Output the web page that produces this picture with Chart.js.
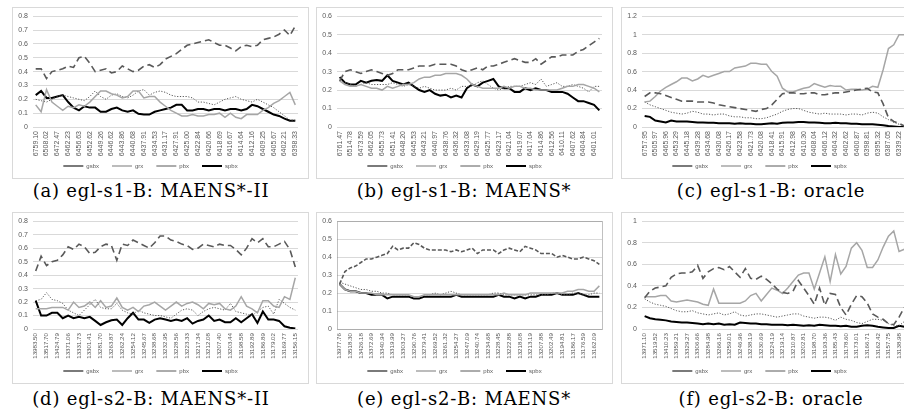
<!DOCTYPE html>
<html><head><meta charset="utf-8">
<script src="https://cdn.jsdelivr.net/npm/chart.js@4"></script>
<style>
html,body{margin:0;padding:0;background:#fff;width:904px;height:413px;overflow:hidden;position:relative}
.box{position:absolute;border:1px solid #d9d9d9;box-sizing:border-box;background:#fff}
.box canvas{position:absolute;left:-1px;top:-1px}
.cap{position:absolute;font-family:'DejaVu Serif',serif;font-size:18px;letter-spacing:0.8px;color:#000;white-space:nowrap;transform:translate(-50%,-50%)}
</style></head><body>
<div class="box" style="left:12px;top:7px;width:297px;height:172px"><canvas id="cA" width="297" height="172"></canvas></div>
<div class="box" style="left:316px;top:7px;width:297px;height:172px"><canvas id="cB" width="297" height="172"></canvas></div>
<div class="box" style="left:621px;top:7px;width:297px;height:172px"><canvas id="cC" width="297" height="172"></canvas></div>
<div class="box" style="left:12px;top:212px;width:297px;height:172px"><canvas id="cD" width="297" height="172"></canvas></div>
<div class="box" style="left:316px;top:212px;width:297px;height:172px"><canvas id="cE" width="297" height="172"></canvas></div>
<div class="box" style="left:621px;top:212px;width:297px;height:172px"><canvas id="cF" width="297" height="172"></canvas></div>
<div class="cap" style="left:151px;top:190px">(a) egl-s1-B: MAENS*-II</div>
<div class="cap" style="left:464px;top:190px">(b) egl-s1-B: MAENS*</div>
<div class="cap" style="left:771px;top:190px">(c) egl-s1-B: oracle</div>
<div class="cap" style="left:151px;top:398px">(d) egl-s2-B: MAENS*-II</div>
<div class="cap" style="left:464px;top:398px">(e) egl-s2-B: MAENS*</div>
<div class="cap" style="left:771px;top:398px">(f) egl-s2-B: oracle</div>
<script>
const seriesNames = ['gsbx','grx','pbx','spbx'];

const ticksA = ['6759.10','6508.02','6472.47','6462.23','6456.63','6452.62','6449.26','6446.62','6443.86','6440.68','6437.91','6434.53','6431.17','6427.91','6425.00','6422.84','6420.66','6418.69','6416.67','6414.64','6412.16','6409.25','6405.67','6402.21','6398.33'];
const gsbxA = [0.42,0.42,0.35,0.40,0.41,0.42,0.44,0.43,0.50,0.51,0.46,0.40,0.41,0.42,0.39,0.40,0.44,0.42,0.40,0.41,0.44,0.45,0.43,0.45,0.49,0.51,0.53,0.56,0.59,0.60,0.61,0.62,0.63,0.61,0.59,0.59,0.57,0.55,0.58,0.59,0.58,0.59,0.63,0.64,0.65,0.67,0.70,0.66,0.73];
const grxA = [0.16,0.11,0.27,0.18,0.15,0.12,0.15,0.14,0.16,0.15,0.18,0.22,0.26,0.26,0.24,0.23,0.21,0.22,0.26,0.26,0.21,0.22,0.22,0.18,0.15,0.12,0.10,0.08,0.08,0.09,0.08,0.08,0.09,0.09,0.10,0.07,0.10,0.07,0.06,0.09,0.09,0.09,0.12,0.14,0.17,0.19,0.22,0.25,0.16];
const pbxA = [0.20,0.19,0.18,0.20,0.22,0.23,0.22,0.21,0.20,0.19,0.22,0.26,0.22,0.20,0.23,0.24,0.22,0.21,0.23,0.26,0.27,0.23,0.25,0.26,0.25,0.23,0.22,0.22,0.22,0.21,0.18,0.18,0.17,0.16,0.18,0.20,0.21,0.22,0.20,0.19,0.18,0.20,0.18,0.16,0.14,0.11,0.08,0.05,0.05];
const spbxA = [0.23,0.26,0.21,0.21,0.22,0.23,0.18,0.14,0.12,0.15,0.14,0.14,0.11,0.11,0.13,0.14,0.12,0.11,0.12,0.095,0.09,0.09,0.11,0.12,0.13,0.14,0.16,0.16,0.12,0.12,0.13,0.13,0.12,0.13,0.13,0.12,0.13,0.13,0.12,0.13,0.16,0.15,0.13,0.11,0.09,0.08,0.06,0.045,0.045];

const ticksB = ['6761.47','6514.78','6473.59','6462.05','6455.73','6451.41','6448.20','6445.53','6443.21','6440.97','6438.76','6436.32','6433.08','6429.19','6425.77','6423.17','6421.04','6419.07','6417.04','6414.86','6412.56','6410.11','6407.62','6404.84','6401.01'];
const gsbxB = [0.25,0.30,0.31,0.30,0.29,0.30,0.31,0.30,0.29,0.28,0.29,0.31,0.31,0.31,0.32,0.33,0.33,0.33,0.34,0.34,0.34,0.34,0.33,0.31,0.30,0.31,0.32,0.31,0.33,0.33,0.34,0.35,0.36,0.37,0.36,0.35,0.35,0.37,0.34,0.36,0.38,0.38,0.39,0.39,0.39,0.41,0.42,0.44,0.46,0.48];
const grxB = [0.25,0.23,0.22,0.22,0.23,0.22,0.21,0.21,0.20,0.22,0.21,0.22,0.23,0.23,0.24,0.26,0.27,0.27,0.28,0.28,0.29,0.29,0.29,0.28,0.26,0.23,0.22,0.21,0.21,0.21,0.21,0.22,0.21,0.22,0.22,0.21,0.21,0.20,0.20,0.20,0.20,0.20,0.21,0.22,0.22,0.23,0.23,0.22,0.21,0.19];
const pbxB = [0.25,0.24,0.23,0.22,0.23,0.24,0.23,0.23,0.23,0.23,0.24,0.23,0.22,0.23,0.22,0.21,0.22,0.21,0.20,0.20,0.20,0.21,0.20,0.22,0.22,0.22,0.24,0.25,0.23,0.21,0.20,0.21,0.22,0.22,0.22,0.23,0.24,0.23,0.26,0.22,0.23,0.24,0.22,0.22,0.23,0.22,0.21,0.19,0.22,0.22];
const spbxB = [0.27,0.24,0.23,0.23,0.25,0.24,0.25,0.255,0.25,0.28,0.25,0.24,0.23,0.24,0.22,0.20,0.19,0.20,0.18,0.17,0.175,0.16,0.17,0.16,0.21,0.23,0.22,0.24,0.25,0.26,0.22,0.21,0.21,0.19,0.19,0.21,0.20,0.21,0.20,0.20,0.19,0.19,0.19,0.18,0.16,0.14,0.14,0.13,0.12,0.09];

const ticksC = ['6757.95','6505.97','6465.96','6453.29','6445.18','6439.28','6434.68','6430.08','6426.17','6423.58','6421.73','6420.08','6418.41','6415.91','6412.98','6410.30','6408.04','6406.12','6404.32','6402.62','6400.87','6398.81','6395.32','6387.05','6339.22'];
const gsbxC = [0.33,0.37,0.37,0.36,0.34,0.32,0.30,0.28,0.28,0.28,0.27,0.27,0.27,0.26,0.24,0.23,0.22,0.21,0.20,0.19,0.18,0.17,0.19,0.20,0.24,0.30,0.36,0.37,0.37,0.36,0.36,0.37,0.37,0.35,0.35,0.36,0.37,0.37,0.38,0.39,0.40,0.41,0.42,0.38,0.37,0.25,0.10,0.06,0.04,0.01];
const grxC = [0.27,0.28,0.33,0.39,0.43,0.46,0.49,0.53,0.53,0.50,0.52,0.56,0.54,0.56,0.58,0.60,0.60,0.64,0.65,0.66,0.69,0.69,0.68,0.68,0.60,0.55,0.42,0.38,0.38,0.40,0.42,0.43,0.47,0.45,0.43,0.45,0.44,0.44,0.40,0.41,0.41,0.40,0.41,0.44,0.43,0.62,0.85,0.89,1.0,1.0];
const pbxC = [0.27,0.24,0.22,0.20,0.18,0.16,0.15,0.14,0.15,0.17,0.16,0.14,0.14,0.13,0.14,0.14,0.12,0.11,0.11,0.10,0.10,0.09,0.09,0.10,0.12,0.14,0.17,0.19,0.20,0.20,0.18,0.16,0.15,0.14,0.15,0.14,0.14,0.14,0.13,0.14,0.14,0.13,0.15,0.16,0.15,0.11,0.08,0.05,0.03,0.01];
const spbxC = [0.12,0.11,0.07,0.06,0.05,0.07,0.06,0.06,0.06,0.055,0.05,0.05,0.045,0.045,0.04,0.04,0.04,0.035,0.04,0.035,0.035,0.03,0.03,0.035,0.04,0.035,0.045,0.05,0.05,0.055,0.055,0.05,0.05,0.045,0.04,0.04,0.045,0.04,0.04,0.035,0.035,0.03,0.03,0.03,0.025,0.02,0.01,0.005,0.0,0.0];

const ticksD = ['13983.50','13517.70','13424.79','13371.06','13331.73','13301.41','13281.70','13263.87','13262.24','13254.12','13245.67','13238.68','13232.95','13228.56','13223.33','13217.34','13212.08','13207.40','13203.44','13198.58','13192.89','13186.89','13179.02','13169.77','13156.15'];
const gsbxD = [0.43,0.54,0.47,0.50,0.51,0.55,0.61,0.59,0.63,0.61,0.56,0.57,0.61,0.63,0.62,0.51,0.63,0.62,0.66,0.64,0.62,0.60,0.64,0.69,0.69,0.66,0.65,0.63,0.62,0.59,0.60,0.63,0.62,0.61,0.63,0.62,0.62,0.59,0.55,0.60,0.67,0.64,0.67,0.61,0.61,0.63,0.65,0.59,0.46];
const grxD = [0.15,0.15,0.15,0.16,0.16,0.16,0.14,0.20,0.16,0.17,0.20,0.16,0.21,0.16,0.17,0.23,0.16,0.14,0.16,0.13,0.17,0.18,0.20,0.17,0.14,0.17,0.20,0.17,0.19,0.20,0.18,0.15,0.19,0.18,0.19,0.15,0.14,0.17,0.24,0.17,0.15,0.12,0.21,0.21,0.17,0.16,0.24,0.22,0.38];
const pbxD = [0.21,0.22,0.27,0.22,0.21,0.19,0.14,0.12,0.10,0.14,0.18,0.22,0.16,0.15,0.15,0.19,0.14,0.12,0.11,0.14,0.12,0.11,0.10,0.10,0.09,0.08,0.11,0.14,0.15,0.14,0.10,0.13,0.15,0.16,0.15,0.14,0.19,0.13,0.12,0.11,0.10,0.13,0.16,0.17,0.11,0.22,0.19,0.16,0.14];
const spbxD = [0.21,0.10,0.10,0.12,0.12,0.08,0.10,0.08,0.09,0.08,0.09,0.06,0.03,0.05,0.065,0.07,0.03,0.08,0.12,0.07,0.07,0.045,0.07,0.08,0.07,0.06,0.07,0.06,0.08,0.04,0.06,0.07,0.10,0.06,0.07,0.05,0.05,0.08,0.05,0.08,0.11,0.045,0.13,0.07,0.07,0.06,0.02,0.01,0.003];

const ticksE = ['13977.76','13518.30','13426.18','13372.69','13340.94','13319.99','13303.27','13290.76','13279.41','13269.52','13261.32','13254.27','13247.09','13240.74','13234.68','13228.45','13222.88','13218.08','13213.19','13207.88','13202.49','13194.81','13186.17','13176.59','13162.09'];
const gsbxE = [0.25,0.32,0.34,0.35,0.37,0.39,0.39,0.40,0.41,0.42,0.46,0.44,0.45,0.45,0.48,0.47,0.45,0.44,0.44,0.44,0.44,0.43,0.44,0.43,0.44,0.45,0.42,0.44,0.44,0.44,0.42,0.44,0.45,0.44,0.43,0.46,0.45,0.44,0.42,0.42,0.42,0.40,0.41,0.40,0.39,0.39,0.40,0.39,0.38,0.36];
const grxE = [0.25,0.22,0.21,0.21,0.20,0.20,0.20,0.19,0.19,0.19,0.19,0.19,0.19,0.19,0.18,0.18,0.19,0.19,0.19,0.19,0.19,0.19,0.19,0.19,0.19,0.19,0.19,0.19,0.19,0.19,0.19,0.20,0.19,0.19,0.19,0.19,0.20,0.20,0.20,0.20,0.20,0.20,0.20,0.21,0.21,0.22,0.22,0.21,0.21,0.24];
const pbxE = [0.26,0.25,0.24,0.23,0.22,0.22,0.21,0.21,0.20,0.20,0.19,0.19,0.19,0.19,0.18,0.18,0.19,0.19,0.20,0.19,0.20,0.21,0.20,0.19,0.19,0.19,0.19,0.19,0.19,0.20,0.20,0.19,0.19,0.19,0.19,0.19,0.19,0.19,0.19,0.19,0.20,0.20,0.19,0.19,0.20,0.20,0.19,0.19,0.20,0.20];
const spbxE = [0.25,0.22,0.21,0.21,0.20,0.20,0.19,0.19,0.19,0.17,0.18,0.18,0.18,0.18,0.17,0.17,0.18,0.18,0.18,0.18,0.18,0.18,0.19,0.18,0.18,0.18,0.18,0.18,0.18,0.18,0.19,0.18,0.18,0.17,0.18,0.17,0.18,0.18,0.19,0.19,0.19,0.20,0.19,0.19,0.19,0.20,0.19,0.18,0.18,0.18];

const ticksF = ['13971.10','13519.52','13410.23','13359.21','13329.27','13306.66','13284.98','13266.16','13259.01','13246.96','13238.19','13230.69','13224.19','13219.14','13210.87','13202.81','13198.70','13193.36','13185.43','13178.60','13173.01','13166.71','13162.42','13157.75','13138.98'];
const gsbxF = [0.29,0.35,0.38,0.39,0.40,0.48,0.51,0.52,0.52,0.53,0.59,0.47,0.53,0.56,0.57,0.55,0.58,0.53,0.48,0.56,0.47,0.46,0.49,0.46,0.42,0.37,0.34,0.33,0.35,0.45,0.38,0.31,0.23,0.38,0.22,0.33,0.32,0.20,0.13,0.23,0.31,0.30,0.24,0.14,0.11,0.09,0.05,0.04,0.11,0.20];
const grxF = [0.30,0.30,0.30,0.31,0.31,0.26,0.25,0.26,0.27,0.26,0.25,0.23,0.22,0.37,0.24,0.24,0.24,0.24,0.24,0.26,0.31,0.33,0.26,0.32,0.38,0.36,0.33,0.38,0.44,0.50,0.52,0.52,0.37,0.52,0.67,0.44,0.69,0.51,0.58,0.75,0.80,0.73,0.57,0.57,0.64,0.76,0.86,0.91,0.72,0.74];
const pbxF = [0.28,0.25,0.23,0.22,0.21,0.19,0.17,0.16,0.16,0.17,0.15,0.14,0.13,0.14,0.15,0.13,0.14,0.16,0.13,0.12,0.13,0.14,0.14,0.13,0.12,0.11,0.12,0.13,0.14,0.14,0.12,0.11,0.10,0.11,0.11,0.10,0.08,0.11,0.09,0.08,0.06,0.05,0.07,0.09,0.09,0.08,0.05,0.03,0.03,0.07];
const spbxF = [0.12,0.10,0.09,0.085,0.08,0.07,0.065,0.06,0.06,0.055,0.05,0.045,0.05,0.045,0.05,0.04,0.045,0.04,0.06,0.055,0.05,0.05,0.045,0.045,0.04,0.04,0.04,0.035,0.04,0.035,0.03,0.035,0.03,0.04,0.035,0.03,0.03,0.025,0.03,0.02,0.02,0.03,0.035,0.03,0.02,0.015,0.01,0.01,0.03,0.02];

const framePlugin = {
  id:'frame',
  beforeDatasetsDraw(chart){
    const a = chart.chartArea, ctx = chart.ctx;
    ctx.save(); ctx.strokeStyle = '#808080'; ctx.lineWidth = 1; ctx.setLineDash([1,1]);
    ctx.strokeRect(Math.round(a.left)+0.5, Math.round(a.top)+0.5, Math.round(a.right-a.left), Math.round(a.bottom-a.top));
    ctx.restore();
  }
};

const LEG_PAD = 4;

function build(id, ticks, g, r, p, s, ymax, step, xh, xFont, dashG, framed){
  const n = g.length;
  const labels = Array.from({length:n}, (_, i) => (i % 2 === 0 && ticks[i/2] !== undefined) ? ticks[i/2] : '');
  const ds = (label, data, color, w, dash) => ({label, data, borderColor:color, backgroundColor:color, borderWidth:w, borderDash:dash, pointRadius:0, pointHoverRadius:0, pointStyle:'line', tension:0, fill:false});
  new Chart(document.getElementById(id), {
    type:'line',
    data:{labels, datasets:[
      ds(seriesNames[0], g, '#595959', 1.6, dashG),
      ds(seriesNames[1], r, '#a6a6a6', 1.5, []),
      ds(seriesNames[2], p, '#595959', 1, [1.2,1.6]),
      ds(seriesNames[3], s, '#000000', 2, [])
    ]},
    options:{
      responsive:false, animation:false, devicePixelRatio:1,
      layout:{padding:{top:8, left:0, right:11, bottom:0}},
      plugins:{
        legend:{position:'bottom', labels:{usePointStyle:true, pointStyleWidth:20, boxHeight:6,
          font:{family:'Liberation Sans', size:6}, color:'#595959', padding:LEG_PAD,
          generateLabels:(chart)=>Chart.defaults.plugins.legend.labels.generateLabels(chart).map(l=>Object.assign(l,{text:l.text+'\u2003\u2002'}))}},
        tooltip:{enabled:false}
      },
      scales:{
        x:{offset:true, grid:{display:false, drawTicks:false}, border:{display:false},
           ticks:{autoSkip:false, maxRotation:90, minRotation:90, font:{family:'Liberation Sans', size:xFont}, color:'#595959', padding:4},
           afterFit:(sc)=>{ sc.height = xh; }},
        y:{min:0, max:ymax, grid:{color:'#d9d9d9', drawTicks:false}, border:{display:false},
           ticks:{stepSize:step, font:{family:'Liberation Sans', size:7}, color:'#595959', padding:5, callback:(v)=>String(+(+v).toFixed(2))},
           afterFit:(sc)=>{ sc.width = 21; }}
      }
    },
    plugins: framed ? [framePlugin] : []
  });
}

build('cA', ticksA, gsbxA, grxA, pbxA, spbxA, 0.8, 0.1, 32, 7, [7,4], false);
build('cB', ticksB, gsbxB, grxB, pbxB, spbxB, 0.6, 0.1, 32, 7, [7,4], false);
build('cC', ticksC, gsbxC, grxC, pbxC, spbxC, 1.2, 0.2, 32, 7, [7,4], false);
build('cD', ticksD, gsbxD, grxD, pbxD, spbxD, 0.8, 0.1, 35, 6.2, [7,4], false);
build('cE', ticksE, gsbxE, grxE, pbxE, spbxE, 0.6, 0.1, 35, 6.2, [4,2], true);
build('cF', ticksF, gsbxF, grxF, pbxF, spbxF, 1.0, 0.1, 35, 6.2, [7,4], false);
</script>
</body></html>
